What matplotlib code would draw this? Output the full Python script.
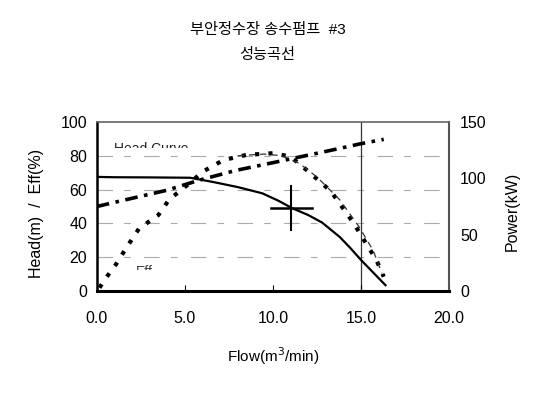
import numpy as np
import matplotlib.pyplot as plt
from matplotlib.patches import Rectangle

plt.rcParams['font.family'] = ['Liberation Sans', 'Noto Sans CJK KR', 'DejaVu Sans']

# Head curve (m)
head_flow = [0.0, 1.0, 3.0, 5.3, 6.6, 8.0, 9.4, 10.3, 11.1, 12.0, 12.8, 13.8, 14.4, 15.0, 15.7, 16.4]
head_val = [67.5, 67.3, 67.2, 67.0, 64.5, 61.5, 57.8, 53.5, 49.0, 45.0, 40.5, 32.0, 25.5, 18.5, 11.0, 3.5]

# Efficiency curve (%) - thick dotted
eff_flow = [0.15, 0.5, 1.1, 1.7, 2.4, 3.5, 4.1, 5.3, 6.0, 7.2, 8.5, 10.0, 11.0, 12.1, 13.3, 14.6, 15.9, 16.3]
eff_val = [2.0, 7.5, 16.0, 26.0, 37.0, 45.0, 54.0, 64.0, 70.5, 77.5, 80.5, 81.5, 79.5, 70.0, 59.0, 40.0, 18.0, 8.5]

# second efficiency trace - thin dashed
eff2_flow = [8.0, 9.5, 10.5, 11.5, 12.5, 13.8, 14.9, 15.7, 16.2]
eff2_val = [80.0, 81.0, 80.0, 75.5, 67.5, 54.0, 38.0, 24.0, 10.5]

# Power curve (kW)
pow_flow = [0.0, 1.5, 4.0, 5.85, 7.9, 10.2, 13.2, 15.1, 16.3]
pow_val = [75.0, 80.5, 89.5, 98.5, 107.0, 114.5, 124.5, 131.0, 134.5]

# duty point
duty_q = 11.05
duty_h = 49.0

x_ticks = [0, 5, 10, 15, 20]
x_labels = ['0.0', '5.0', '10.0', '15.0', '20.0']

fig = plt.figure(figsize=(5.35, 4.01), dpi=100)
ax = fig.add_axes([0.181, 0.274, 0.658, 0.422])

fig.text(0.5, 0.925, '부안정수장 송수펌프  #3', ha='center', va='center', fontsize=11)
fig.text(0.5, 0.862, '성능곡선', ha='center', va='center', fontsize=11)

# faint scanned grid
for g in [20, 40, 60, 80]:
    ax.axhline(g, color='#aaaaaa', lw=0.8, dashes=(14, 10, 6, 12), zorder=1)
ax.axvline(15, color='#333333', lw=0.9, zorder=1)

ax.plot(head_flow, head_val, color='black', lw=1.6, zorder=3)
ax.plot(eff_flow, eff_val, color='black', lw=3.0, ls=(0, (1, 2.2)), zorder=3)
ax.plot(eff2_flow, eff2_val, color='#333333', lw=0.9, ls=(0, (5, 4)), zorder=3)

ax.plot([duty_q - 1.15, duty_q + 1.15], [duty_h, duty_h], color='black', lw=1.8, zorder=4)
ax.plot([duty_q, duty_q], [duty_h - 13, duty_h + 13], color='black', lw=1.5, zorder=4)

# labels only half visible in the scan
t = ax.text(1.0, 81.5, 'Head Curve', fontsize=10, color='#222222')
t.set_clip_on(True)
t.set_clip_path(Rectangle((0, 84.6), 20, 20, transform=ax.transData))
t2 = ax.text(2.2, 9.0, 'Eff', fontsize=10, color='#444444')
t2.set_clip_on(True)
t2.set_clip_path(Rectangle((0, 12.5), 20, 5, transform=ax.transData))

ax.set_xlim(0, 20)
ax.set_ylim(0, 100)
ax.set_xticks(x_ticks)
ax.set_xticklabels(x_labels)
ax.set_yticks([0, 20, 40, 60, 80, 100])
ax.tick_params(axis='x', direction='in', length=4, pad=14, labelsize=11.5)
ax.tick_params(axis='y', direction='in', length=0, pad=7, labelsize=11.5)
ax.set_xlabel('Flow(m$^3$/min)', fontsize=11, labelpad=14)
ax.set_ylabel('Head(m)  /  Eff(%)', fontsize=11.5, labelpad=9)
ax.yaxis.set_label_coords(-0.15, 0.46)

ax.spines['bottom'].set_linewidth(2.2)
ax.spines['left'].set_linewidth(1.8)
ax.spines['top'].set_color('#666666')
ax.spines['top'].set_linewidth(1.2)
ax.spines['top'].set_linestyle((0, (2, 1)))
ax.spines['right'].set_color('#555555')
ax.spines['right'].set_linewidth(1.5)

ax2 = ax.twinx()
ax2.plot(pow_flow, pow_val, color='black', lw=2.6, ls=(0, (3.5, 1.8, 1, 1.8)), zorder=3)
ax2.set_ylim(0, 150)
ax2.set_yticks([0, 50, 100, 150])
ax2.tick_params(axis='y', direction='in', length=0, pad=8, labelsize=11.5)
ax2.set_ylabel('Power(kW)', fontsize=11.5, labelpad=6)
ax2.yaxis.set_label_coords(1.16, 0.47)
for s in ax2.spines.values():
    s.set_visible(False)

fig.savefig('out.png', dpi=100)
